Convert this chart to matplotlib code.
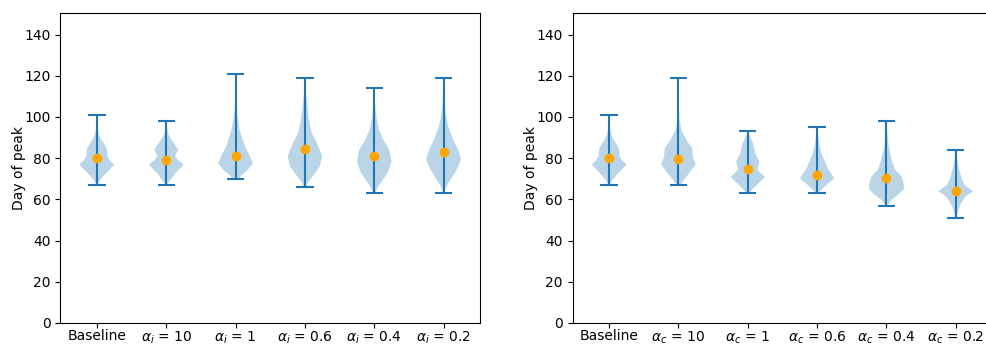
import matplotlib
matplotlib.use("Agg")
import matplotlib.pyplot as plt
import numpy as np

labels_left = ["Baseline", r"$\alpha_i$ = 10", r"$\alpha_i$ = 1", r"$\alpha_i$ = 0.6", r"$\alpha_i$ = 0.4", r"$\alpha_i$ = 0.2"]
labels_right = ["Baseline", r"$\alpha_c$ = 10", r"$\alpha_c$ = 1", r"$\alpha_c$ = 0.6", r"$\alpha_c$ = 0.4", r"$\alpha_c$ = 0.2"]

# mean / min / max
means_left = [80, 79.2, 81, 84.3, 81.1, 82.9]
mins_left = [67, 67, 70, 66, 63, 63]
maxs_left = [101, 98, 121, 119, 114, 119]

means_right = [80, 79.8, 74.6, 71.9, 70.6, 64.1]
mins_right = [67, 67, 63, 63, 57, 51]
maxs_right = [101, 119, 93, 95, 98, 84]

# density profiles (value, relative width)
base_y = [67, 69, 71, 73, 75, 77, 79, 81, 83, 85, 87, 89, 91, 93, 95, 97, 99, 101]
base_d = [0.05, 0.15, 0.35, 0.55, 0.8, 1.0, 0.75, 0.6, 0.6, 0.55, 0.42, 0.25, 0.15, 0.08, 0.05, 0.03, 0.02, 0.01]

li10_y = [67, 68.5, 70, 72.5, 75, 77, 79, 81, 84, 86.5, 89, 92, 95, 98]
li10_d = [0.05, 0.15, 0.3, 0.5, 0.8, 1.0, 0.7, 0.5, 0.7, 0.5, 0.3, 0.1, 0.04, 0.01]

li1_y = [70, 71.8, 74.3, 77.5, 81, 85.6, 90.5, 95, 102, 106, 112, 121]
li1_d = [0.15, 0.35, 0.7, 1.0, 0.83, 0.55, 0.35, 0.2, 0.08, 0.04, 0.02, 0.01]

li06_y = [66, 68.5, 71.8, 75.9, 80.8, 87.3, 92, 98.5, 106.6, 111.5, 119]
li06_d = [0.05, 0.2, 0.5, 0.85, 1.0, 0.7, 0.4, 0.23, 0.12, 0.06, 0.01]

li04_y = [63, 66, 69.5, 73.5, 78.3, 84, 88.9, 93.7, 100, 105, 114]
li04_d = [0.05, 0.2, 0.5, 0.8, 1.0, 0.87, 0.52, 0.27, 0.12, 0.06, 0.01]

li02_y = [63, 66.2, 70.3, 74.3, 79.2, 84, 88.9, 95.3, 101.8, 108, 119]
li02_d = [0.04, 0.15, 0.45, 0.75, 1.0, 0.85, 0.56, 0.27, 0.12, 0.06, 0.01]

rc10_y = [67, 69.3, 72.5, 77, 80.5, 84.8, 88.9, 93.7, 98.5, 105, 119]
rc10_d = [0.1, 0.3, 0.6, 1.0, 0.83, 0.8, 0.45, 0.17, 0.06, 0.02, 0.01]

rc1_y = [63, 65.2, 67.7, 70.8, 74.5, 78.3, 82.4, 87.2, 91, 93]
rc1_d = [0.08, 0.3, 0.6, 1.0, 0.55, 0.68, 0.43, 0.3, 0.1, 0.02]

rc06_y = [63, 64.6, 67, 70.3, 74.5, 78.3, 82.4, 87.2, 92, 95]
rc06_d = [0.05, 0.25, 0.55, 1.0, 0.64, 0.45, 0.25, 0.12, 0.05, 0.01]

rc04_y = [57, 59.8, 63, 65, 67.5, 71.1, 74.3, 79.2, 85.6, 92, 98]
rc04_d = [0.05, 0.3, 0.77, 1.0, 1.0, 0.87, 0.5, 0.3, 0.13, 0.05, 0.01]

rc02_y = [51, 55, 58, 61.3, 64, 67, 71.1, 76, 81, 84]
rc02_d = [0.03, 0.15, 0.3, 0.55, 1.0, 0.5, 0.3, 0.15, 0.05, 0.01]

profiles_left = [(base_y, base_d), (li10_y, li10_d), (li1_y, li1_d),
                 (li06_y, li06_d), (li04_y, li04_d), (li02_y, li02_d)]
profiles_right = [(base_y, base_d), (rc10_y, rc10_d), (rc1_y, rc1_d),
                  (rc06_y, rc06_d), (rc04_y, rc04_d), (rc02_y, rc02_d)]

W, H = 987, 344
fig = plt.figure(figsize=(W / 100, H / 100), dpi=100)
axL = fig.add_axes([60.5 / W, 20.6 / H, 419.5 / W, 310.9 / H])
axR = fig.add_axes([572.7 / W, 20.6 / H, 419.5 / W, 310.9 / H])


def draw(ax, profiles, means, mins, maxs, labels):
    stats = []
    for (ys, ds), m, lo, hi in zip(profiles, means, mins, maxs):
        stats.append(dict(coords=np.array(ys, float), vals=np.array(ds, float),
                          mean=m, median=m, min=lo, max=hi))
    pos = np.arange(1, len(stats) + 1)
    ax.violin(stats, positions=pos, widths=0.5, showmeans=False, showextrema=True)
    ax.plot(pos, means, "o", color="orange", markersize=6, zorder=3)
    ax.set_xticks(pos)
    ax.set_xticklabels(labels)
    ax.tick_params(axis="x", pad=0.8)
    ax.set_xlim(0.475, 6.525)
    ax.set_ylim(-0.2, 150.7)
    ax.set_yticks(np.arange(0, 141, 20))
    ax.set_ylabel("Day of peak", labelpad=-1)


draw(axL, profiles_left, means_left, mins_left, maxs_left, labels_left)
draw(axR, profiles_right, means_right, mins_right, maxs_right, labels_right)

fig.savefig("out.png", dpi=100)
